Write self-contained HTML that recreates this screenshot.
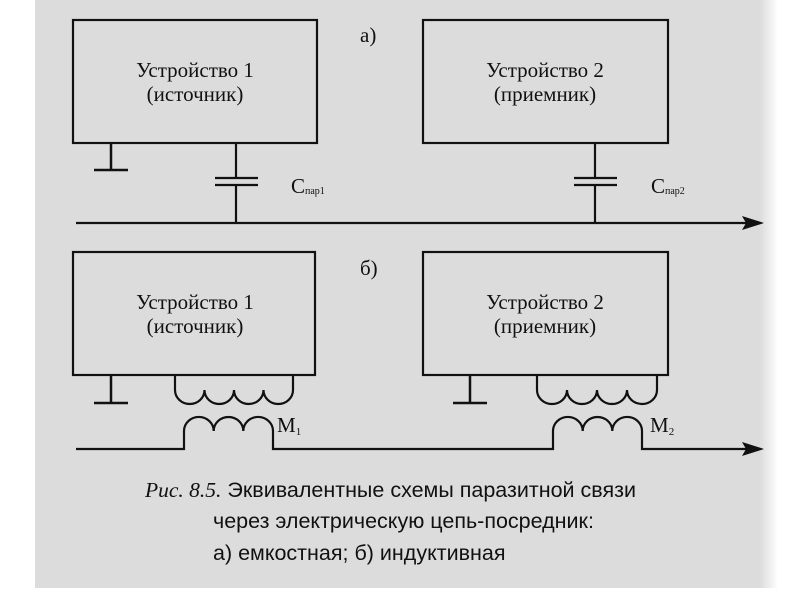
<!DOCTYPE html>
<html><head><meta charset="utf-8"><style>
html,body{margin:0;padding:0;background:#fff;}
#p{position:relative;width:800px;height:600px;overflow:hidden;background:#fff;}
svg{position:absolute;left:0;top:0;}
</style></head><body><div id="p">
<svg width="800" height="600" viewBox="0 0 800 600" font-family="Liberation Serif, serif">
<defs><linearGradient id="g" x1="0" x2="1"><stop offset="0" stop-color="#dcdcdc"/><stop offset="1" stop-color="#fff"/></linearGradient></defs>
<rect x="35" y="0" width="728" height="588" fill="#dcdcdc"/>
<rect x="760" y="0" width="18" height="588" fill="url(#g)"/>
<g fill="none" stroke="#111" stroke-width="2.2">
<rect x="73" y="20" width="244" height="123"/>
<rect x="423" y="20" width="245" height="123"/>
<path d="M111 143V170M94 170H128" stroke-width="2.5"/>
<path d="M236 143V177M215 178H258M215 185H258M236 185V223"/>
<path d="M595 143V177M574 178H617M574 185H617M595 185V223"/>
<path d="M76 223H750"/>
<rect x="73" y="252" width="242" height="123"/>
<rect x="423" y="252" width="245" height="123"/>
<path d="M111 375V403M94 403H128" stroke-width="2.5"/>
<path d="M470 375V403M453 403H487" stroke-width="2.5"/>
<path d="M175 375V390A14.75 14 0 0 0 204.5 390A14.75 14 0 0 0 234 390A14.75 14 0 0 0 263.5 390A14.75 14 0 0 0 293 390V375"/>
<path d="M537 375V390A15 14 0 0 0 567 390A15 14 0 0 0 597 390A15 14 0 0 0 627 390A15 14 0 0 0 657 390V375"/>
<path d="M76 449H184V431A14.8 14 0 0 1 213.7 431A14.8 14 0 0 1 243.3 431A14.8 14 0 0 1 273 431V449H553V431A14.8 14 0 0 1 582.7 431A14.8 14 0 0 1 612.3 431A14.8 14 0 0 1 642 431V449H752"/>
</g>
<path d="M764 223L742 216L746 223L742 230Z" fill="#111"/>
<path d="M764 449L742 442L746 449L742 456Z" fill="#111"/>
<g fill="#111" font-size="21" text-anchor="middle">
<text x="195" y="77">Устройство 1</text><text x="195" y="101">(источник)</text>
<text x="545" y="77">Устройство 2</text><text x="545" y="101">(приемник)</text>
<text x="195" y="309">Устройство 1</text><text x="195" y="333">(источник)</text>
<text x="545" y="309">Устройство 2</text><text x="545" y="333">(приемник)</text>
</g>
<g fill="#111" font-size="21">
<text x="360" y="42">а)</text><text x="360" y="275">б)</text>
<text x="291" y="193">C<tspan font-size="10" dy="1">пар1</tspan></text>
<text x="651" y="193">C<tspan font-size="10" dy="1">пар2</tspan></text>
<text x="277" y="432">M<tspan font-size="11" dy="3">1</tspan></text>
<text x="650" y="432">M<tspan font-size="11" dy="3">2</tspan></text>
</g>
<g fill="#111" font-size="21.5" font-family="Liberation Sans, sans-serif">
<text x="145" y="497"><tspan font-family="Liberation Serif, serif" font-style="italic">Рис. 8.5.</tspan> Эквивалентные схемы паразитной связи</text>
<text x="213" y="528">через электрическую цепь-посредник:</text>
<text x="213" y="560">а) емкостная; б) индуктивная</text>
</g>
</svg>
</div></body></html>
